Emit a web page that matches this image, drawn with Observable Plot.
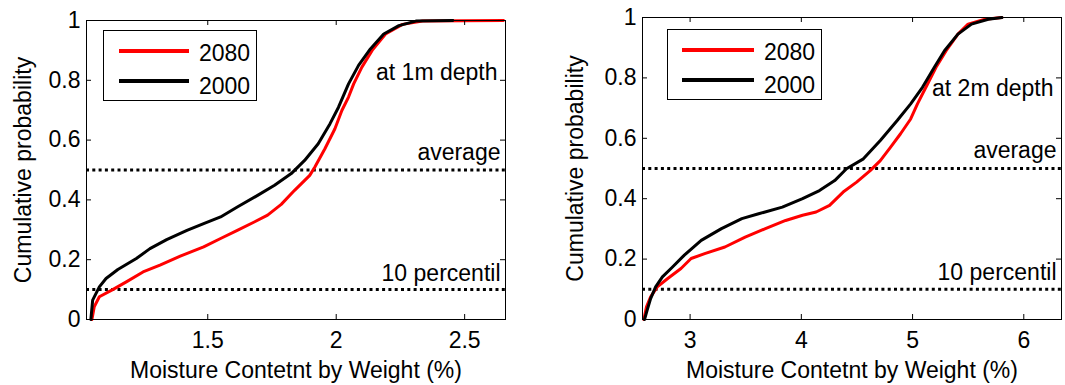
<!DOCTYPE html>
<html>
<head>
<meta charset="utf-8">
<script src="https://cdn.jsdelivr.net/npm/d3@7"></script>
<script src="https://cdn.jsdelivr.net/npm/@observablehq/plot@0.6"></script>
<style>
  html, body { margin: 0; padding: 0; background: #fff; }
  #wrap { position: relative; width: 1065px; height: 385px; font-family: "Liberation Sans", Arial, sans-serif; }
  .panel { position: absolute; top: 0; }
  .legend { position: absolute; border: 1px solid #000; background: #fff; box-sizing: border-box; }
  .lg-line { position: absolute; height: 4px; }
  .lg-text { position: absolute; font-size: 23px; line-height: 23px; color: #000; }
</style>
</head>
<body>
<div id="wrap"></div>
<script>
// ---- Data ----
const seriesNames = ["2080", "2000"];
const seriesColors = ["#ff0000", "#000000"];

// Panel 1: 1 m depth
const d1_2000_x = [1.045,1.052,1.078,1.104,1.150,1.222,1.275,1.340,1.419,1.484,1.550,1.615,1.694,1.760,1.825,1.877,1.930,1.976,2.009,2.048,2.087,2.133,2.185,2.244,2.310,2.454];
const d1_2000_y = [0,0.065,0.109,0.137,0.167,0.204,0.237,0.267,0.298,0.321,0.343,0.376,0.415,0.449,0.488,0.532,0.588,0.655,0.710,0.788,0.850,0.905,0.955,0.983,0.998,1.0];
const d1_2080_x = [1.049,1.058,1.078,1.130,1.183,1.248,1.314,1.393,1.484,1.550,1.615,1.681,1.733,1.786,1.838,1.897,1.917,1.956,1.995,2.022,2.048,2.068,2.100,2.140,2.192,2.258,2.336,2.651];
const d1_2080_y = [0,0.042,0.076,0.100,0.126,0.159,0.182,0.212,0.243,0.271,0.298,0.326,0.349,0.385,0.432,0.482,0.510,0.571,0.638,0.699,0.744,0.788,0.844,0.900,0.955,0.987,0.998,1.0];

// Panel 2: 2 m depth
const d2_2000_x = [2.590,2.614,2.645,2.690,2.751,2.842,2.948,3.100,3.282,3.465,3.616,3.829,4.011,4.163,4.300,4.406,4.558,4.710,4.862,4.983,5.089,5.196,5.287,5.408,5.530,5.681,5.803];
const d2_2000_y = [0,0.031,0.069,0.108,0.141,0.174,0.213,0.262,0.301,0.334,0.350,0.372,0.400,0.427,0.460,0.499,0.532,0.593,0.659,0.714,0.769,0.835,0.890,0.945,0.978,0.994,1.0];
const d2_2080_x = [2.584,2.608,2.645,2.705,2.796,2.918,3.009,3.131,3.313,3.495,3.677,3.859,4.011,4.133,4.254,4.376,4.497,4.619,4.710,4.801,4.892,4.983,5.044,5.120,5.211,5.302,5.408,5.499,5.651,5.803];
const d2_2080_y = [0,0.042,0.075,0.108,0.135,0.169,0.202,0.218,0.240,0.273,0.301,0.328,0.345,0.356,0.378,0.422,0.455,0.493,0.526,0.570,0.615,0.664,0.714,0.769,0.835,0.890,0.945,0.978,0.994,1.0];

const yTicks = [0, 0.2, 0.4, 0.6, 0.8, 1];
const xTicks1 = [1.5, 2, 2.5];
const xTicks2 = [3, 4, 5, 6];
const refLines = [0.5, 0.1];
const refLabels = ["average", "10 percentil"];
const refLabelY = [0.558, 0.154];
const depthLabels = ["at 1m depth", "at 2m depth"];
const depthLabelY = [0.826, 0.765];
const xDomain1 = [1.028, 2.659];
const xDomain2 = [2.572, 6.339];
const xLabel = "Moisture Contetnt by Weight (%)";
const yLabel = "Cumulative probability";

function rows(xs, ys, name) { return xs.map((x, i) => ({x, y: ys[i], s: name})); }

const FS = 23;
function panel(opts) {
  const {left, width, mL, mR, mT, mB, xDomain, xTicks, data, depthLabel, depthY, yLabelDx} = opts;
  const height = 385;
  const ph = height - mT - mB;
  const pw = width - mL - mR;
  const tl = 5;
  const chart = Plot.plot({
    width, height,
    marginLeft: mL, marginRight: mR, marginTop: mT, marginBottom: mB,
    style: {fontFamily: '"Liberation Sans", Arial, sans-serif', fontSize: FS + "px", color: "#000", background: "#fff", overflow: "visible"},
    x: {domain: xDomain, ticks: xTicks},
    y: {domain: [0, 1], ticks: yTicks},
    color: {domain: seriesNames, range: seriesColors},
    marks: [
      Plot.ruleY(refLines, {stroke: "#000", strokeWidth: 3, strokeDasharray: "3,3.3"}),
      Plot.line(data, {x: "x", y: "y", z: "s", stroke: "s", strokeWidth: 3}),
      Plot.frame({stroke: "#000", strokeWidth: 1}),
      // inward ticks (bottom, top, left, right)
      Plot.tickX(xTicks, {x: d => d, insetTop: ph - tl, stroke: "#000"}),
      Plot.tickX(xTicks, {x: d => d, insetBottom: ph - tl, stroke: "#000"}),
      Plot.tickY(yTicks, {y: d => d, insetRight: pw - tl, stroke: "#000"}),
      Plot.tickY(yTicks, {y: d => d, insetLeft: pw - tl, stroke: "#000"}),
      Plot.axisX({ticks: xTicks, tickSize: 0, tickPadding: 12, fontSize: FS, label: null, tickFormat: d => String(d)}),
      Plot.axisY({ticks: yTicks, tickSize: 0, tickPadding: 6, fontSize: FS, label: null, tickFormat: d => String(d)}),
      Plot.text(refLabels, {x: xDomain[1], y: (d, i) => refLabelY[i], text: d => d, textAnchor: "end", dx: -5, fontSize: FS}),
      Plot.text([depthLabel], {x: xDomain[1], y: depthY, text: d => d, textAnchor: "end", dx: -8, fontSize: FS}),
      Plot.text([xLabel], {frameAnchor: "bottom", dy: 58, text: d => d, textAnchor: "middle", fontSize: FS}),
      Plot.text([yLabel], {frameAnchor: "left", dx: yLabelDx, rotate: -90, text: d => d, textAnchor: "middle", fontSize: FS})
    ]
  });
  chart.classList.add("panel");
  chart.style.left = left + "px";
  return chart;
}

function legend(box, lineX1, lineX2, lineY, textX) {
  const wrap = document.getElementById("wrap");
  const lg = document.createElement("div");
  lg.className = "legend";
  lg.style.left = box[0] + "px"; lg.style.top = box[1] + "px";
  lg.style.width = (box[2] - box[0]) + "px"; lg.style.height = (box[3] - box[1]) + "px";
  wrap.appendChild(lg);
  seriesNames.forEach((name, i) => {
    const ln = document.createElement("div");
    ln.className = "lg-line";
    ln.style.background = seriesColors[i];
    ln.style.left = (lineX1 - box[0]) + "px";
    ln.style.width = (lineX2 - lineX1) + "px";
    ln.style.top = (lineY[i] - box[1] - 2) + "px";
    lg.appendChild(ln);
    const tx = document.createElement("div");
    tx.className = "lg-text";
    tx.textContent = name;
    tx.style.left = (textX - box[0]) + "px";
    tx.style.top = (lineY[i] - box[1] - 10 + (i === 1 ? 4 : 1)) + "px";
    lg.appendChild(tx);
  });
}

const wrap = document.getElementById("wrap");
wrap.appendChild(panel({
  left: 0, width: 532, mL: 86, mR: 27, mT: 20, mB: 66,
  xDomain: xDomain1, xTicks: xTicks1,
  data: [...rows(d1_2080_x, d1_2080_y, "2080"), ...rows(d1_2000_x, d1_2000_y, "2000")],
  depthLabel: depthLabels[0], depthY: depthLabelY[0], yLabelDx: -63
}));
wrap.appendChild(panel({
  left: 532, width: 533, mL: 110, mR: 4, mT: 17, mB: 66,
  xDomain: xDomain2, xTicks: xTicks2,
  data: [...rows(d2_2080_x, d2_2080_y, "2080"), ...rows(d2_2000_x, d2_2000_y, "2000")],
  depthLabel: depthLabels[1], depthY: depthLabelY[1], yLabelDx: -67
}));
legend([103, 30, 257, 101], 118, 188, [50, 80], 198);
legend([667, 29, 822, 100], 681, 753, [49, 79], 763);
</script>
</body>
</html>
